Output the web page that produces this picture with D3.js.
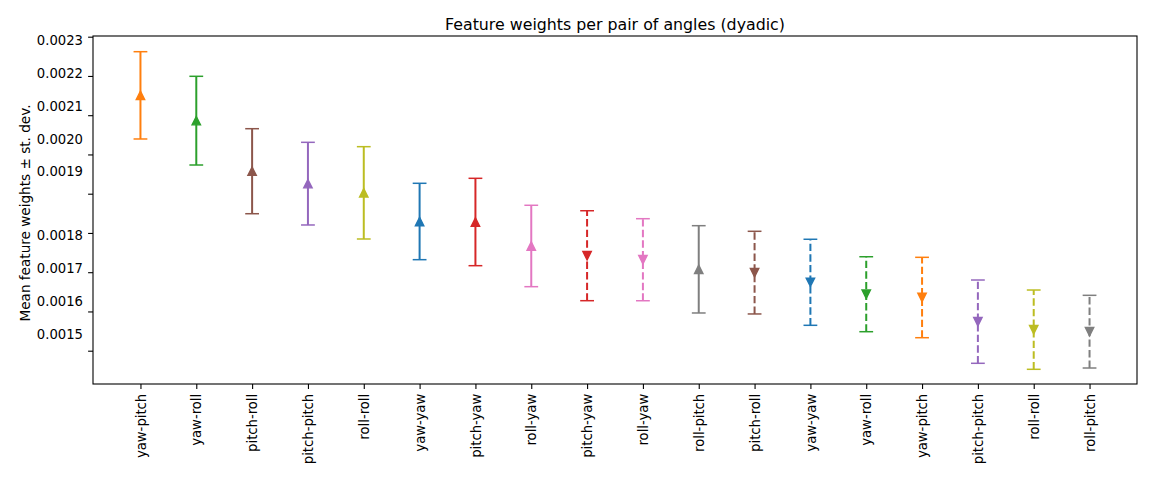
<!DOCTYPE html>
<html>
<head>
<meta charset="utf-8">
<script src="https://cdn.jsdelivr.net/npm/d3@7"></script>
<style>
  body { margin: 0; background: #fff; }
  text { font-family: "DejaVu Sans", sans-serif; }
</style>
</head>
<body>
<svg id="chart" width="1152" height="480"></svg>
<script>
// ---- data ----
const categories = ["yaw-pitch","yaw-roll","pitch-roll","pitch-pitch","roll-roll","yaw-yaw","pitch-yaw","roll-yaw","pitch-yaw","roll-yaw","roll-pitch","pitch-roll","yaw-yaw","yaw-roll","yaw-pitch","pitch-pitch","roll-roll","roll-pitch"];
const means = [0.0021506,0.0020861,0.0019573,0.0019256,0.0019022,0.0018292,0.0018279,0.0017668,0.0017420,0.0017318,0.0017073,0.0016989,0.0016743,0.0016439,0.0016355,0.0015740,0.0015536,0.0015485];
const stdevs = [0.0001112,0.0001130,0.0001083,0.0001053,0.0001176,0.0000973,0.0001113,0.0001037,0.0001146,0.0001045,0.0001112,0.0001053,0.0001096,0.0000955,0.0001024,0.0001061,0.0001010,0.0000926];
const colors = ["#ff7f0e","#2ca02c","#8c564b","#9467bd","#bcbd22","#1f77b4","#d62728","#e377c2","#d62728","#e377c2","#7f7f7f","#8c564b","#1f77b4","#2ca02c","#ff7f0e","#9467bd","#bcbd22","#7f7f7f"];
const direction = ["up","up","up","up","up","up","up","up","down","down","up","down","down","down","down","down","down","down"];
const yTickValues = [0.0023,0.0022,0.0021,0.0020,0.0019,0.0018,0.0017,0.0016,0.0015];
const yTickLabels = ["0.0023","0.0022","0.0021","0.0020","0.0019","0.0018","0.0017","0.0016","0.0015"];

// ---- layout ----
const L = 93, R = 1137, T = 36, B = 384;
const svg = d3.select("#chart");

const x = d3.scaleLinear().domain([-0.85, categories.length - 1 + 0.85]).range([L, R]);
// linear scale: 0.0001 per 39.25px, top tick at 36.7
const yTop = 0.0023 + 0.0001 * (0.7 / 39.25);
const yBot = 0.0023 - 0.0001 * ((B - 36.7) / 39.25);
const y = d3.scaleLinear().domain([yBot, yTop]).range([B, T]);
// tick labels are drawn offset from their ticks in the original
const labelY = d3.scaleLinear().domain([0.0015, 0.0018, 0.0019, 0.0023]).range([334, 235, 171.7, 40.7]);

// axes
const yAxis = d3.axisLeft(y).tickValues(yTickValues).tickFormat("").tickSize(4.9).tickSizeOuter(0);
const gy = svg.append("g").attr("transform", `translate(${L},0)`).call(yAxis);
gy.select(".domain").remove();
gy.selectAll(".tick line").attr("stroke", "#000").attr("stroke-width", 1.1);

svg.append("g").selectAll("text").data(yTickValues).join("text")
  .attr("x", 83).attr("y", d => labelY(d)).attr("dy", "0.35em")
  .attr("text-anchor", "end").attr("font-size", 13.2).attr("fill", "#000")
  .text((d, i) => yTickLabels[i]);

const xAxis = d3.axisBottom(x).tickValues(d3.range(categories.length))
  .tickFormat(i => categories[i]).tickSize(4.9).tickSizeOuter(0);
const gx = svg.append("g").attr("transform", `translate(0,${B})`).call(xAxis);
gx.select(".domain").remove();
gx.selectAll(".tick line").attr("stroke", "#000").attr("stroke-width", 1.1);
gx.selectAll(".tick text")
  .attr("font-size", 13.2).attr("font-family", "DejaVu Sans").attr("fill", "#000")
  .attr("transform", "rotate(-90)")
  .attr("text-anchor", "end").attr("x", -9.8).attr("y", 0).attr("dy", "0.35em");

// frame
svg.append("rect").attr("x", L).attr("y", T).attr("width", R - L).attr("height", B - T)
  .attr("fill", "none").attr("stroke", "#000").attr("stroke-width", 1.1);

// error bars
const data = categories.map((c, i) => ({i, c, m: means[i], s: stdevs[i], col: colors[i], dir: direction[i]}));
const g = svg.append("g");
const bars = g.selectAll("g.bar").data(data).join("g").attr("class", "bar");
bars.append("line")
  .attr("x1", d => x(d.i)).attr("x2", d => x(d.i))
  .attr("y1", d => y(d.m - d.s)).attr("y2", d => y(d.m + d.s))
  .attr("stroke", d => d.col).attr("stroke-width", 2)
  .attr("stroke-dasharray", d => d.dir === "down" ? "7.4,3.2" : null);
[1, -1].forEach(sgn => {
  bars.append("line")
    .attr("x1", d => x(d.i) - 6.9).attr("x2", d => x(d.i) + 6.9)
    .attr("y1", d => y(d.m + sgn * d.s)).attr("y2", d => y(d.m + sgn * d.s))
    .attr("stroke", d => d.col).attr("stroke-width", 1.5);
});
const tri = 4.2;
bars.append("path")
  .attr("d", d => d.dir === "up"
    ? `M0,${-tri}L${-tri},${tri}L${tri},${tri}Z`
    : `M0,${tri}L${-tri},${-tri}L${tri},${-tri}Z`)
  .attr("transform", d => `translate(${x(d.i)},${y(d.m)})`)
  .attr("fill", d => d.col).attr("stroke", d => d.col).attr("stroke-width", 1.4)
  .attr("stroke-linejoin", "miter");

// title and y label
svg.append("text").attr("x", (L + R) / 2).attr("y", 30).attr("text-anchor", "middle")
  .attr("font-size", 15.8).attr("fill", "#000").text("Feature weights per pair of angles (dyadic)");
svg.append("text").attr("transform", `translate(30,${(T + B) / 2 + 3}) rotate(-90)`)
  .attr("text-anchor", "middle").attr("font-size", 13.6).attr("fill", "#000")
  .text("Mean feature weights ± st. dev.");
</script>
</body>
</html>
